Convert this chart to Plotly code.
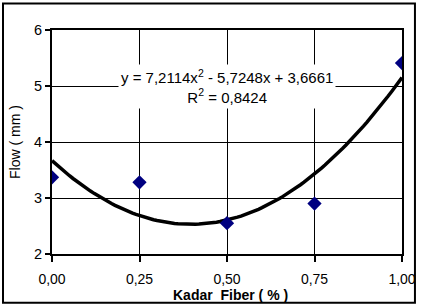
import numpy as np
import plotly.graph_objects as go

kadar_fiber = [0.0, 0.25, 0.5, 0.75, 1.0]
flow = [3.37, 3.28, 2.55, 2.90, 5.41]
# trendline coefficients (a, b, c) as printed on the chart
trend_coef = [7.2114, -5.7248, 3.6661]
x_ticks = [0.0, 0.25, 0.5, 0.75, 1.0]
y_ticks = [2, 3, 4, 5, 6]

xs = np.linspace(0, 1, 101)
ys = np.polyval(trend_coef, xs)

fig = go.Figure()
fig.add_trace(go.Scatter(x=xs, y=ys, mode="lines",
                         line=dict(color="black", width=3.5), hoverinfo="skip"))
fig.add_trace(go.Scatter(x=kadar_fiber, y=flow, mode="markers",
                         marker=dict(symbol="diamond", size=11, color="#000080")))

font = "Liberation Sans, Arial, sans-serif"
fig.update_layout(
    width=422, height=307,
    margin=dict(l=52, r=20, t=30, b=53),
    paper_bgcolor="white", plot_bgcolor="white",
    showlegend=False,
    separators=",.",
    font=dict(family=font, size=14, color="black"),
    xaxis=dict(range=[0, 1], tickvals=x_ticks, tickformat=".2f",
               automargin=False,
               showgrid=True, gridcolor="black", gridwidth=1,
               showline=True, linecolor="black", linewidth=2, mirror=True,
               ticks="outside", ticklen=6, tickwidth=2, tickcolor="black",
               ticklabelstandoff=5,
               zeroline=False, tickfont=dict(size=14)),
    yaxis=dict(range=[2, 6], tickvals=y_ticks,
               automargin=False,
               showgrid=True, gridcolor="black", gridwidth=1,
               showline=True, linecolor="black", linewidth=2, mirror=True,
               ticks="outside", ticklen=5, tickwidth=2, tickcolor="black",
               zeroline=False, tickfont=dict(size=14.5),
               title=dict(text="Flow ( mm )", standoff=10, font=dict(size=14))),
)

# x-axis title
fig.add_annotation(x=0.509, y=-0.182, xref="paper", yref="paper",
                   xanchor="center", yanchor="middle", showarrow=False,
                   text="<b>Kadar&nbsp; Fiber ( % )</b>", font=dict(size=14))

fig.add_annotation(x=0.5, y=5.0, xref="x", yref="y",
                   text="y = 7,2114x<sup>2</sup> - 5,7248x + 3,6661<br>R<sup>2</sup> = 0,8424",
                   showarrow=False, bgcolor="white", font=dict(size=15),
                   borderpad=2)

fig.add_shape(type="rect", xref="paper", yref="paper",
              x0=-0.14, x1=1.037, y0=-0.218, y1=1.118,
              line=dict(color="black", width=2), layer="above")

fig.write_html("out.html", config={"displayModeBar": False},
               post_script="document.body.style.margin='0';document.body.style.overflow='hidden';")
